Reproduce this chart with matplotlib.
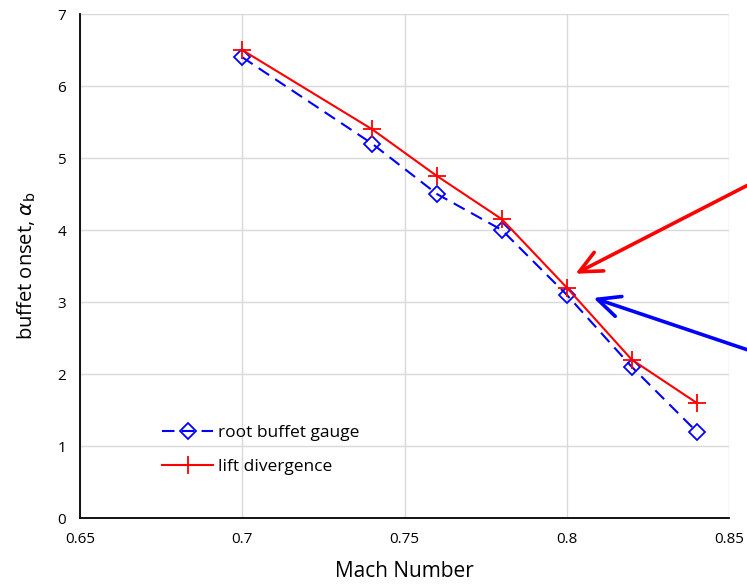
import numpy as np
import matplotlib
matplotlib.use("Agg")
import matplotlib.pyplot as plt

plt.rcParams['font.family'] = ['Open Sans', 'DejaVu Sans']

# data
mach = [0.70, 0.74, 0.76, 0.78, 0.80, 0.82, 0.84]
root_buffet = [6.4, 5.2, 4.5, 4.0, 3.1, 2.1, 1.2]
lift_div = [6.5, 5.4, 4.75, 4.15, 3.2, 2.2, 1.6]

fig = plt.figure(figsize=(7.47, 5.84), dpi=100)
ax = fig.add_axes([0.107, 0.113, 0.869, 0.863])

ax.plot(mach, root_buffet, color='blue', linestyle=(0, (6, 3.5)), linewidth=1.5,
        marker='D', markersize=8, markerfacecolor='none', markeredgecolor='blue',
        markeredgewidth=1.3, label='root buffet gauge')
ax.plot(mach, lift_div, color='red', linewidth=1.5, marker='+', markersize=13,
        markeredgewidth=1.3, label='lift divergence')

ax.set_xlim(0.65, 0.85)
ax.set_ylim(0, 7)
ax.set_xticks([0.65, 0.7, 0.75, 0.8, 0.85])
ax.set_xticklabels(['0.65', '0.7', '0.75', '0.8', '0.85'])
ax.set_yticks(range(0, 8))
ax.grid(True, color='#d9d9d9', linewidth=1)
ax.set_axisbelow(True)
for s in ['top', 'right']:
    ax.spines[s].set_visible(False)
for s in ['left', 'bottom']:
    ax.spines[s].set_linewidth(1.3)
ax.tick_params(length=0, labelsize=11, pad=10)

ax.set_xlabel('Mach Number', fontsize=15, labelpad=10)
ax.set_ylabel(r'buffet onset, $\alpha_\mathrm{b}$', fontsize=14.5, labelpad=14)

ax.legend(loc='lower left', bbox_to_anchor=(0.103, 0.055), frameon=False, fontsize=12.5,
          handlelength=2.9, handletextpad=0.3, labelspacing=1.0)

# arrows pointing at the 0.8 Mach points
ax.annotate('', xy=(0.8019, 3.375), xytext=(0.8722, 5.004),
            arrowprops=dict(arrowstyle='->,head_length=1.6,head_width=0.75', color='red', lw=2.6),
            annotation_clip=False)
ax.annotate('', xy=(0.8074, 3.069), xytext=(0.8722, 2.085),
            arrowprops=dict(arrowstyle='->,head_length=1.6,head_width=0.75', color='blue', lw=2.6),
            annotation_clip=False)

fig.savefig('out.png', dpi=100)
